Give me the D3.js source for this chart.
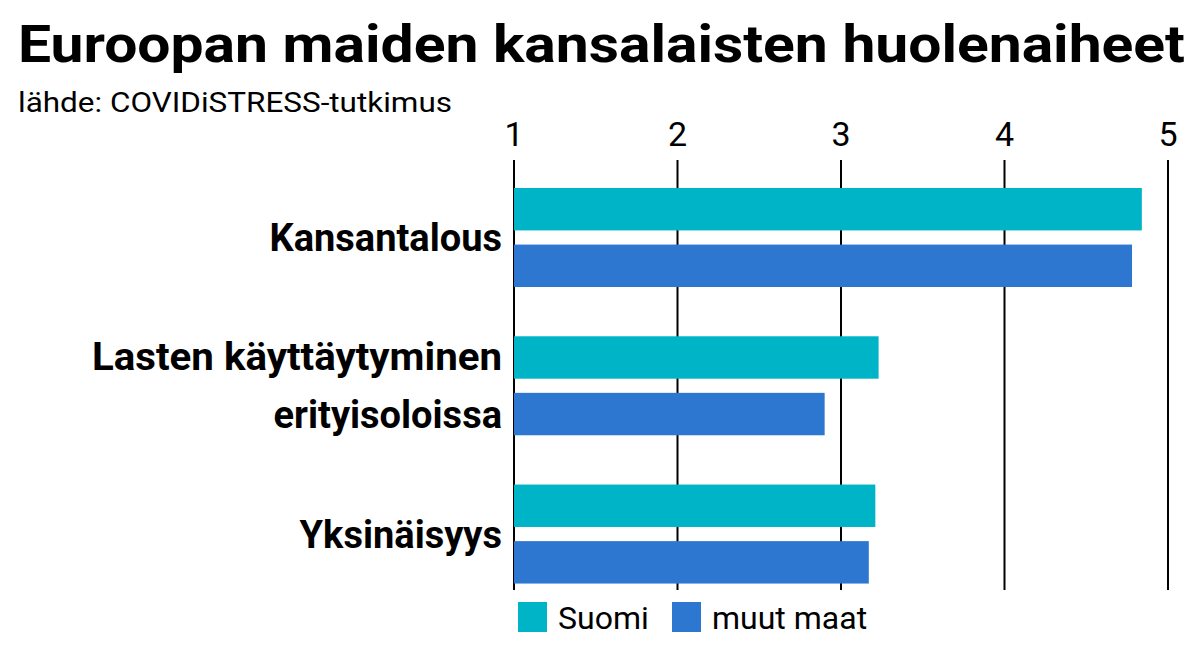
<!DOCTYPE html>
<html><head><meta charset="utf-8">
<script src="https://cdn.jsdelivr.net/npm/d3@7"></script>
<style>body{margin:0;background:#fff}text{font-family:Roboto,sans-serif}</style>
</head><body>
<svg id="chart" width="1199" height="648"></svg>
<script>
var categories = [["Kansantalous"], ["Lasten käyttäytyminen", "erityisoloissa"], ["Yksinäisyys"]];
var seriesNames = ["Suomi", "muut maat"];
var suomi = [4.84, 3.23, 3.21];
var muut = [4.78, 2.90, 3.17];
var ticks = [1, 2, 3, 4, 5];
var colors = ["#00b4c8", "#2e77d0"];

var svg = d3.select("#chart");
var x = d3.scaleLinear().domain([1, 5]).range([514, 1168]);
var y = d3.scaleBand().domain(d3.range(categories.length)).range([168, 598]).paddingInner(0.1);
var sub = d3.scaleBand().domain([0, 1]).range([20, 20 + 99]).paddingInner(0.25);

svg.append("text").attr("x", 18).attr("y", 62).attr("font-size", 52).attr("font-weight", 700)
  .attr("textLength", 1167).attr("lengthAdjust", "spacingAndGlyphs")
  .text("Euroopan maiden kansalaisten huolenaiheet");
svg.append("text").attr("x", 18).attr("y", 112).attr("font-size", 28)
  .attr("textLength", 434).attr("lengthAdjust", "spacingAndGlyphs")
  .text("lähde: COVIDiSTRESS-tutkimus");

svg.selectAll(".grid").data(ticks).enter().append("line")
  .attr("x1", x).attr("x2", x).attr("y1", 160).attr("y2", 590)
  .attr("stroke", "#000").attr("stroke-width", 2);
svg.selectAll(".tick").data(ticks).enter().append("text")
  .attr("x", x).attr("y", 146).attr("text-anchor", "middle").attr("font-size", 34)
  .text(function (d) { return d; });

[suomi, muut].forEach(function (vals, s) {
  svg.selectAll(".bar" + s).data(vals).enter().append("rect")
    .attr("x", x(1)).attr("width", function (d) { return x(d) - x(1); })
    .attr("y", function (d, i) { return y(i) + sub(s); }).attr("height", sub.bandwidth())
    .attr("fill", colors[s]);
});

categories.forEach(function (lines, i) {
  var cy = y(i) + 20 + 50;
  var t = svg.append("text").attr("x", 502).attr("text-anchor", "end")
    .attr("font-size", 38).attr("font-weight", 700);
  lines.forEach(function (l, j) {
    t.append("tspan").attr("x", 502)
      .attr("y", cy + 13 + (j - (lines.length - 1) / 2) * 58)
      .attr("textLength", l.length > 15 ? 410 : null).attr("lengthAdjust", "spacingAndGlyphs")
      .text(l);
  });
});

var lx = [518, 672];
seriesNames.forEach(function (n, s) {
  svg.append("rect").attr("x", lx[s]).attr("y", 602).attr("width", 29).attr("height", 30).attr("fill", colors[s]);
  svg.append("text").attr("x", lx[s] + 40).attr("y", 629).attr("font-size", 32).text(n);
});
</script>
</body></html>
